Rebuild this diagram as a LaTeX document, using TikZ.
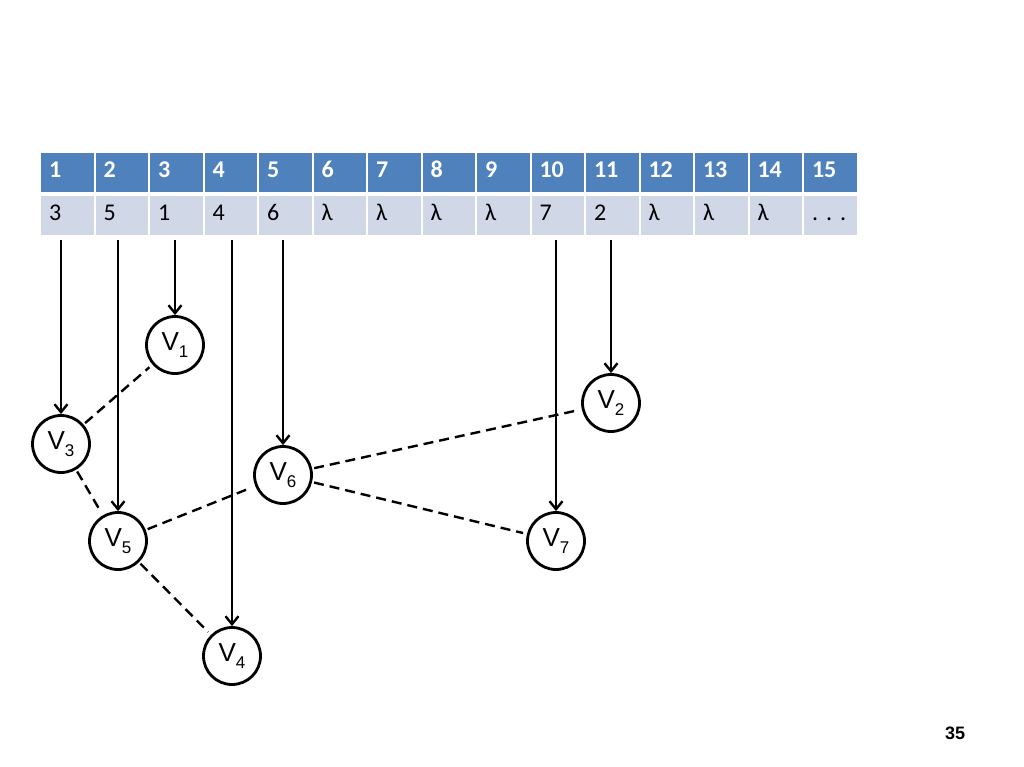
\documentclass[tikz,border=0pt]{standalone}
\usepackage{fontspec}
\setmainfont{Carlito}
\newfontfamily\arialfont{Liberation Sans}
\usetikzlibrary{arrows.meta}
\definecolor{headblue}{RGB}{79,129,189}
\definecolor{rowgray}{RGB}{208,216,232}
\newcommand{\vsub}[1]{V\raisebox{-7pt}{\fontsize{17}{18}\selectfont #1}}
\begin{document}
\begin{tikzpicture}[x=1pt,y=-1pt,
	headcell/.style={anchor=north west,fill=headblue,draw=white,line width=2pt,text=white,font=\fontsize{24}{26}\selectfont\bfseries,inner xsep=9pt,inner ysep=0pt,text width=36.5pt,minimum height=41pt,text height=15pt,text depth=4pt,align=left},
	datacell/.style={headcell,fill=rowgray,text=black,font=\fontsize{24}{26}\selectfont},
	vnode/.style={circle,draw,line width=2.8pt,minimum size=57pt,inner sep=0pt,font=\arialfont\fontsize{26}{28}\selectfont},
	arrowline/.style={line width=2.4pt,-{Straight Barb[length=8pt,width=13pt]},shorten <=3pt},
	dashline/.style={line width=2.4pt,dash pattern=on 10pt off 6pt,shorten <=2pt,shorten >=4pt}]
\useasboundingbox (0,0) rectangle (1024,767);
% table
\foreach \i/\v in {1/3,2/5,3/1,4/4,5/6,6/λ,7/λ,8/λ,9/λ,10/7,11/2,12/λ,13/λ,14/λ,15/{.\,\,.\,\,.}}{
	\node[headcell] (head\i) at ({39+54.5*(\i-1)},151) {\i};
	\node[datacell] (cell\i) at ({39+54.5*(\i-1)},194) {\v};
}
% vertices
\node[vnode] (v1) at (175,345) {\vsub{1}};
\node[vnode] (v2) at (611,403) {\vsub{2}};
\node[vnode] (v3) at (61,444) {\vsub{3}};
\node[vnode] (v4) at (232,656) {\vsub{4}};
\node[vnode] (v5) at (118,541) {\vsub{5}};
\node[vnode] (v6) at (283,475) {\vsub{6}};
\node[vnode] (v7) at (556,541) {\vsub{7}};
% pointers
\draw[arrowline] (v3.north |- cell1.south) -- (v3);
\draw[arrowline] (v5.north |- cell2.south) -- (v5);
\draw[arrowline] (v1.north |- cell3.south) -- (v1);
\draw[arrowline] (v4.north |- cell4.south) -- (v4);
\draw[arrowline] (v6.north |- cell5.south) -- (v6);
\draw[arrowline] (v7.north |- cell10.south) -- (v7);
\draw[arrowline] (v2.north |- cell11.south) -- (v2);
% edges
\draw[dashline] (v3) -- (v1);
\draw[dashline] (v3) -- (v5);
\draw[dashline] (v5) -- (v6);
\draw[dashline] (v5) -- (v4);
\draw[dashline] (v6) -- (v2);
\draw[dashline] (v6) -- (v7);
\node[font=\arialfont\bfseries\fontsize{18}{20}\selectfont] (pagenum) at (955,733) {35};
\end{tikzpicture}
\end{document}
